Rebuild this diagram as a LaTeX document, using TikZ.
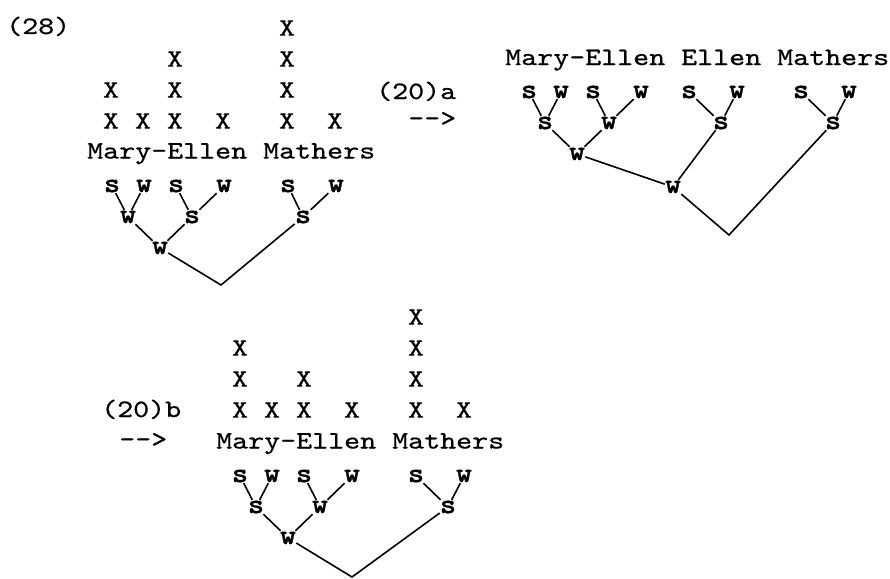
\documentclass[tikz,border=0pt]{standalone}
\usepackage{fontspec}
\newfontfamily\twfont{lmmono10-regular.otf}[FakeStretch=1.219,FakeBold=0.6]
\newfontfamily\swfont{lmmonolt10-bold.otf}[FakeStretch=1.1,FakeBold=0.8]
\begin{document}
\begin{tikzpicture}[x=1pt,y=-1pt,
  txt/.style={inner sep=0pt, anchor=base west, font=\twfont\fontsize{25}{30}\selectfont},
  gx/.style={inner sep=0pt, anchor=center, font=\twfont\fontsize{25}{30}\selectfont},
  lab/.style={inner sep=0pt, minimum size=14pt, font=\swfont\fontsize{28}{32}\selectfont},
  conn/.style={line width=1.6pt}]
\useasboundingbox (0,0) rectangle (890,578);

% ---------- (28) top left ----------
\node[txt] (n28) at (6,34) {(28)};
\foreach \c/\h in {1/2,3/1,5/3,8/1,12/4,15/1}{
  \foreach \r in {1,...,\h}{
    \node[gx] (tlx-\c-\r) at ({87+16*(\c+0.5)},{152-31*\r}) {X};
  }
}
\node[txt] (tltext) at (87,158.5) {Mary-Ellen Mathers};
\node[lab] (tla) at (112,186) {s};
\node[lab] (tlb) at (144,186) {w};
\node[lab] (tlc) at (176,186) {s};
\node[lab] (tld) at (224,186) {w};
\node[lab] (tle) at (288,186) {s};
\node[lab] (tlf) at (336,186) {w};
\node[lab] (tlg) at (128,217) {w};
\node[lab] (tlh) at (192,217) {s};
\node[lab] (tli) at (303,217) {s};
\node[lab] (tlj) at (160,248) {w};
\coordinate (tlr) at (221,285);
\draw[conn] (tla) -- (tlg);
\draw[conn] (tlb) -- (tlg);
\draw[conn] (tlc) -- (tlh);
\draw[conn] (tld) -- (tlh);
\draw[conn] (tle) -- (tli);
\draw[conn] (tlf) -- (tli);
\draw[conn] (tlg) -- (tlj);
\draw[conn] (tlh) -- (tlj);
\draw[conn] (tlj) -- (tlr) -- (tli);

% ---------- (20)a top right ----------
\node[txt] (n20a) at (376,99) {(20)a};
\node[txt] (arra) at (408,126) {-\kern0pt-\kern0pt>};
\node[txt] (trtext) at (505,65) {Mary-Ellen Ellen Mathers};
\node[lab] (tra) at (529,92) {s};
\node[lab] (trb) at (561,92) {w};
\node[lab] (trc) at (593,92) {s};
\node[lab] (trd) at (641,92) {w};
\node[lab] (tre) at (689,92) {s};
\node[lab] (trf) at (737,92) {w};
\node[lab] (trg) at (801,92) {s};
\node[lab] (trh) at (849,92) {w};
\node[lab] (tri) at (545,123) {s};
\node[lab] (trj) at (609,123) {w};
\node[lab] (trk) at (721,123) {s};
\node[lab] (trl) at (833,123) {s};
\node[lab] (trm) at (577,154) {w};
\node[lab] (trn) at (673,187) {w};
\coordinate (trr) at (729,235);
\draw[conn] (tra) -- (tri);
\draw[conn] (trb) -- (tri);
\draw[conn] (trc) -- (trj);
\draw[conn] (trd) -- (trj);
\draw[conn] (tre) -- (trk);
\draw[conn] (trf) -- (trk);
\draw[conn] (trg) -- (trl);
\draw[conn] (trh) -- (trl);
\draw[conn] (tri) -- (trm);
\draw[conn] (trj) -- (trm);
\draw[conn] (trm) -- (trn);
\draw[conn] (trk) -- (trn);
\draw[conn] (trn) -- (trr) -- (trl);

% ---------- (20)b bottom ----------
\node[txt] (n20b) at (101,417) {(20)b};
\node[txt] (arrb) at (119,447) {-\kern0pt-\kern0pt>};
\foreach \c/\h in {1/3,3/1,5/2,8/1,12/4,15/1}{
  \foreach \r in {1,...,\h}{
    \node[gx] (bx-\c-\r) at ({216+16*(\c+0.5)},{441-31*\r}) {X};
  }
}
\node[txt] (btext) at (216,448.5) {Mary-Ellen Mathers};
\node[lab] (ba) at (240,476) {s};
\node[lab] (bb) at (272,476) {w};
\node[lab] (bc) at (304,476) {s};
\node[lab] (bd) at (352,476) {w};
\node[lab] (be) at (416,476) {s};
\node[lab] (bf) at (464,476) {w};
\node[lab] (bg) at (256,507) {s};
\node[lab] (bh) at (320,507) {w};
\node[lab] (bi) at (448,507) {s};
\node[lab] (bj) at (288,538) {w};
\coordinate (br) at (352,577);
\draw[conn] (ba) -- (bg);
\draw[conn] (bb) -- (bg);
\draw[conn] (bc) -- (bh);
\draw[conn] (bd) -- (bh);
\draw[conn] (be) -- (bi);
\draw[conn] (bf) -- (bi);
\draw[conn] (bg) -- (bj);
\draw[conn] (bh) -- (bj);
\draw[conn] (bj) -- (br) -- (bi);
\end{tikzpicture}
\end{document}
